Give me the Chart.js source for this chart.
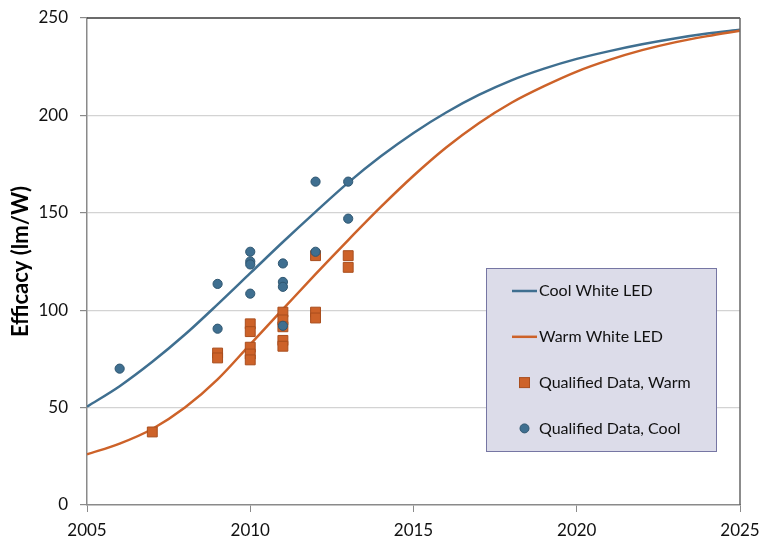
<!DOCTYPE html>
<html>
<head>
<meta charset="utf-8">
<script src="https://cdn.jsdelivr.net/npm/chart.js@4/dist/chart.umd.min.js"></script>
<style>
  html, body { margin: 0; padding: 0; background: #ffffff; }
  #wrap { width: 761px; height: 543px; }
</style>
</head>
<body>
<div id="wrap"><canvas id="c" width="761" height="543"></canvas></div>
<script>
// Projected efficacy curves (lm/W), one value per year
const curveYears = [2005, 2006, 2007, 2008, 2009, 2010, 2011, 2012, 2013, 2014, 2015,
                    2016, 2017, 2018, 2019, 2020, 2021, 2022, 2023, 2024, 2025];
const coolCurve = [50.5, 61, 73.5, 87.5, 103, 119, 135, 150.5, 165.5, 179, 191,
                   201.5, 210.5, 218, 224, 229, 233, 236.5, 239.5, 242, 244];
const warmCurve = [26, 31.5, 39, 50, 64.5, 82.5, 100.5, 118.5, 136, 153, 169,
                   183.5, 196, 206.5, 215, 222.5, 228.5, 233.5, 237.5, 240.7, 243.5];

// Qualified product data, warm white
const warmYears  = [2007, 2009, 2009, 2010, 2010, 2010, 2010, 2010, 2011, 2011, 2011, 2011, 2011, 2012, 2012, 2012, 2013, 2013];
const warmValues = [37.5, 78, 75.5, 93, 89, 81, 77.5, 74.5, 99, 95, 91.5, 84.5, 81.5, 128, 99, 96, 128, 122];

// Qualified product data, cool white
const coolYears  = [2006, 2009, 2009, 2010, 2010, 2010, 2010, 2011, 2011, 2011, 2011, 2012, 2012, 2013, 2013];
const coolValues = [70, 113.5, 90.5, 130, 125, 123.5, 108.5, 124, 114.5, 112, 92, 166, 130, 166, 147];

// Axis ticks
const xTicks = [2005, 2010, 2015, 2020, 2025];
const yTicks = [0, 50, 100, 150, 200, 250];

const seriesNames = ['Cool White LED', 'Warm White LED', 'Qualified Data, Warm', 'Qualified Data, Cool'];

const BLUE = '#3F6F90';
const BLUE_EDGE = '#2F5670';
const ORANGE = '#CD6229';
const ORANGE_EDGE = '#A94E1E';
const FONT = 'Lato, "Open Sans", sans-serif';

const toPoints = (xs, ys) => xs.map((x, i) => ({ x: x, y: ys[i] }));

// Frame around the plot: dark top edge, grey right edge
const framePlugin = {
  id: 'frame',
  afterDatasetsDraw(chart) {
    const a = chart.chartArea, ctx = chart.ctx;
    ctx.save();
    ctx.lineWidth = 1.5;
    ctx.strokeStyle = '#3a3a3a';
    ctx.beginPath();
    ctx.moveTo(a.left, a.top);
    ctx.lineTo(a.right, a.top);
    ctx.stroke();
    ctx.strokeStyle = '#666666';
    ctx.beginPath();
    ctx.moveTo(a.right, a.top);
    ctx.lineTo(a.right, a.bottom);
    ctx.stroke();
    ctx.restore();
  }
};

// Boxed legend drawn inside the plot area
const boxLegendPlugin = {
  id: 'boxLegend',
  afterDraw(chart, args, opts) {
    const ctx = chart.ctx;
    const b = opts.box;
    ctx.save();
    ctx.fillStyle = '#DCDCE9';
    ctx.strokeStyle = '#7676A3';
    ctx.lineWidth = 1;
    ctx.fillRect(b.x, b.y, b.w, b.h);
    ctx.strokeRect(b.x + 0.5, b.y + 0.5, b.w, b.h);
    ctx.font = '16px ' + FONT;
    ctx.textBaseline = 'middle';
    chart.data.datasets.forEach((ds, row) => {
      const cy = b.y + opts.firstRow + row * opts.rowGap;
      const sx = b.x + opts.sampleLeft;
      const sw = opts.sampleWidth;
      if (ds.showLine) {
        ctx.strokeStyle = ds.borderColor;
        ctx.lineWidth = 2.5;
        ctx.beginPath();
        ctx.moveTo(sx, cy);
        ctx.lineTo(sx + sw, cy);
        ctx.stroke();
      } else if (ds.pointStyle === 'rect') {
        ctx.fillStyle = ds.pointBackgroundColor;
        ctx.strokeStyle = ds.pointBorderColor;
        ctx.lineWidth = 1;
        ctx.fillRect(sx + sw / 2 - 5, cy - 5, 10, 10);
        ctx.strokeRect(sx + sw / 2 - 5, cy - 5, 10, 10);
      } else {
        ctx.fillStyle = ds.pointBackgroundColor;
        ctx.strokeStyle = ds.pointBorderColor;
        ctx.lineWidth = 1;
        ctx.beginPath();
        ctx.arc(sx + sw / 2, cy, 4.5, 0, Math.PI * 2);
        ctx.fill();
        ctx.stroke();
      }
      ctx.fillStyle = '#111111';
      ctx.fillText(ds.label, sx + sw + 2, cy);
    });
    ctx.restore();
  }
};

new Chart(document.getElementById('c'), {
  type: 'scatter',
  data: {
    datasets: [
      {
        label: seriesNames[0],
        data: toPoints(curveYears, coolCurve),
        showLine: true,
        borderColor: BLUE,
        borderWidth: 2.5,
        pointRadius: 0,
        cubicInterpolationMode: 'monotone',
        order: 3
      },
      {
        label: seriesNames[1],
        data: toPoints(curveYears, warmCurve),
        showLine: true,
        borderColor: ORANGE,
        borderWidth: 2.5,
        pointRadius: 0,
        cubicInterpolationMode: 'monotone',
        order: 2
      },
      {
        label: seriesNames[2],
        data: toPoints(warmYears, warmValues),
        showLine: false,
        pointStyle: 'rect',
        pointRadius: 7,
        pointBackgroundColor: ORANGE,
        pointBorderColor: ORANGE_EDGE,
        pointBorderWidth: 1,
        order: 1
      },
      {
        label: seriesNames[3],
        data: toPoints(coolYears, coolValues),
        showLine: false,
        pointStyle: 'circle',
        pointRadius: 4.6,
        pointBackgroundColor: BLUE,
        pointBorderColor: BLUE_EDGE,
        pointBorderWidth: 1,
        order: 0
      }
    ]
  },
  options: {
    responsive: false,
    animation: false,
    events: [],
    layout: { padding: { top: 18, right: 21, left: 0, bottom: 0 } },
    plugins: {
      legend: { display: false },
      tooltip: { enabled: false },
      boxLegend: {
        box: { x: 486, y: 268, w: 230, h: 183 },
        firstRow: 23,
        rowGap: 45.8,
        sampleLeft: 26,
        sampleWidth: 25
      }
    },
    scales: {
      x: {
        type: 'linear',
        min: xTicks[0],
        max: xTicks[xTicks.length - 1],
        afterBuildTicks(scale) { scale.ticks = xTicks.map(v => ({ value: v })); },
        afterFit(scale) {
          scale.height = 38;
          scale.paddingLeft = 0;
          scale.paddingRight = 0;
        },
        ticks: {
          color: '#111111',
          font: { family: FONT, size: 17 },
          padding: 8,
          maxRotation: 0,
          callback: v => String(v)
        },
        grid: {
          drawOnChartArea: false,
          tickLength: 7,
          tickColor: '#8a8a8a'
        },
        border: { color: '#8a8a8a', width: 1.5 }
      },
      y: {
        min: yTicks[0],
        max: yTicks[yTicks.length - 1],
        afterBuildTicks(scale) { scale.ticks = yTicks.map(v => ({ value: v })); },
        afterFit(scale) {
          scale.width = 87;
          scale.paddingTop = 0;
          scale.paddingBottom = 0;
        },
        ticks: {
          color: '#111111',
          font: { family: FONT, size: 17 },
          padding: 12,
          callback: v => String(v)
        },
        grid: {
          color: ctx => (ctx.tick && (ctx.tick.value === 0 || ctx.tick.value === 250)) ? 'rgba(0,0,0,0)' : '#D3D3D3',
          lineWidth: 1.2,
          tickLength: 7,
          tickColor: '#8a8a8a'
        },
        border: { color: '#8a8a8a', width: 1.5 },
        title: {
          display: true,
          text: 'Efficacy (lm/W)',
          color: '#000000',
          font: { family: FONT, size: 22, weight: 'bold' },
          padding: { top: 8, bottom: 0 }
        }
      }
    }
  },
  plugins: [framePlugin, boxLegendPlugin]
});
</script>
</body>
</html>
